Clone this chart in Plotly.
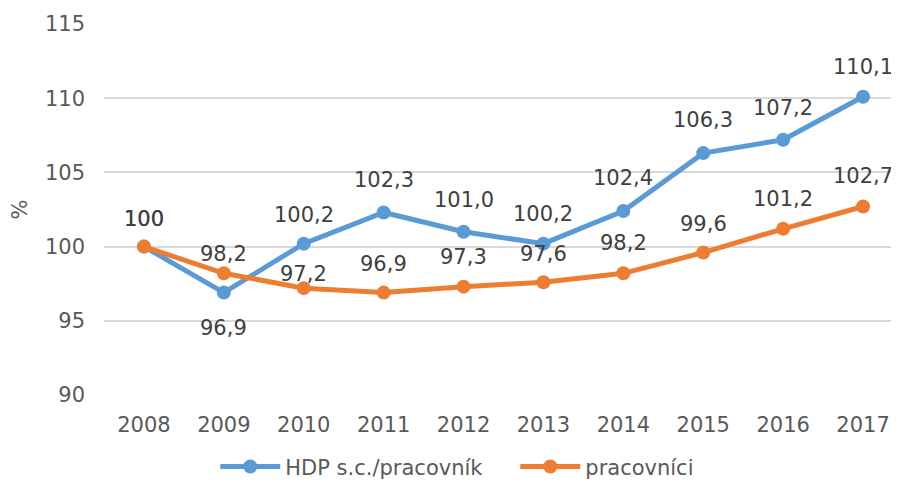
import plotly.graph_objects as go

years = ["2008", "2009", "2010", "2011", "2012", "2013", "2014", "2015", "2016", "2017"]
hdp = [100, 96.9, 100.2, 102.3, 101.0, 100.2, 102.4, 106.3, 107.2, 110.1]
pracovnici = [100, 98.2, 97.2, 96.9, 97.3, 97.6, 98.2, 99.6, 101.2, 102.7]

# label text like Excel: "100" for the base year, else one decimal with comma
def fmt(v):
    if v == 100:
        return "100"
    return f"{v:.1f}".replace(".", ",")

# vertical label offsets in px (Excel placed some of them by hand)
hdp_shift = [28, -35, 29, 32, 32, 30, 33, 33, 32, 30]
prac_shift = [28, 19, 14, 29, 30, 28, 30, 29, 30, 31]

FONT = "DejaVu Sans"
SIZE = 21
blue = "#5B9BD5"
orange = "#ED7D31"

fig = go.Figure()
fig.add_trace(go.Scatter(x=years, y=hdp, mode="lines+markers", name="HDP s.c./pracovník",
                         line=dict(color=blue, width=5), marker=dict(size=14, color=blue)))
fig.add_trace(go.Scatter(x=years, y=pracovnici, mode="lines+markers", name="pracovníci",
                         line=dict(color=orange, width=5), marker=dict(size=14, color=orange)))

# category axis: annotate by category index (numeric-looking strings would be read as indices)
for vals, shifts in [(hdp, hdp_shift), (pracovnici, prac_shift)]:
    for i, (v, s) in enumerate(zip(vals, shifts)):
        fig.add_annotation(x=i, y=v, xref="x", yref="y", text=fmt(v), showarrow=False, yshift=s,
                           font=dict(family=FONT, size=SIZE, color="#404040"))

# page body has an 8px margin, so the figure is a bit smaller than the window
fig.update_layout(
    width=891, height=475,
    margin=dict(l=92, r=0, t=16, b=88),
    plot_bgcolor="white", paper_bgcolor="white",
    font=dict(family=FONT, size=SIZE, color="#595959"),
    showlegend=True,
    legend=dict(orientation="h", x=0.14, xanchor="left", yref="container", y=0.034,
                yanchor="middle", font=dict(size=SIZE, color="#595959"), itemwidth=60,
                entrywidth=225),
)
fig.update_xaxes(type="category", range=[-0.5, 9.45], showgrid=False, showline=False,
                 ticks="", ticklabelstandoff=15)
fig.update_yaxes(range=[90, 115], dtick=5, showgrid=True, gridcolor="#D9D9D9", gridwidth=2,
                 zeroline=False, showline=False, ticks="", ticklabelstandoff=18,
                 title=dict(text="%", standoff=22, font=dict(size=SIZE, color="#595959")))

fig.write_html("out.html")
